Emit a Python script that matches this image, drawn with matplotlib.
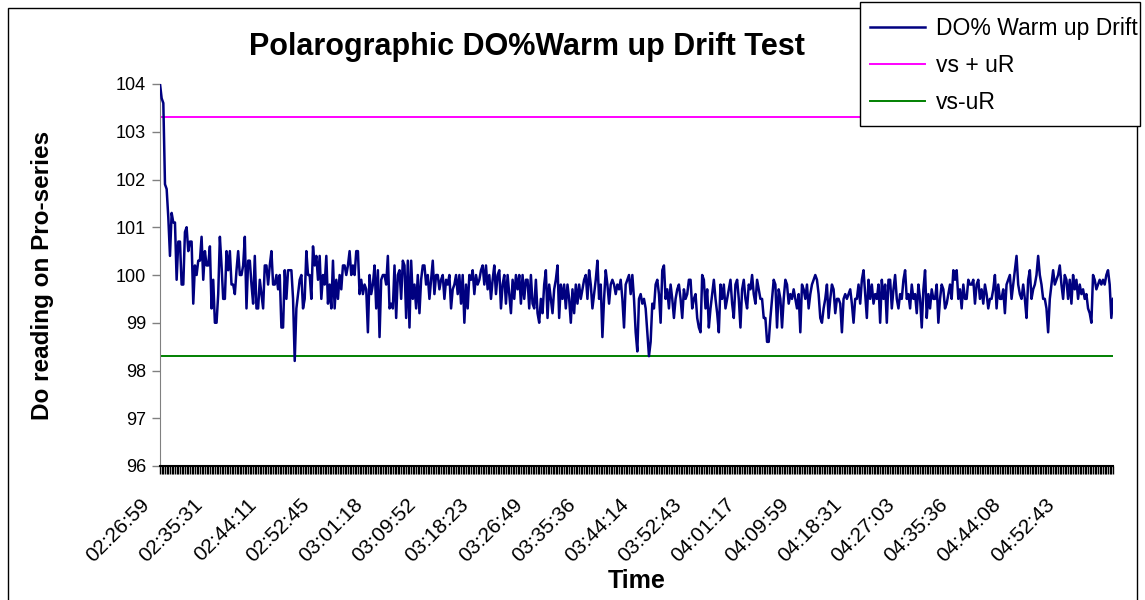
import numpy as np
import matplotlib.pyplot as plt
from matplotlib.patches import Rectangle
from matplotlib.transforms import ScaledTranslation

plt.rcParams['font.family'] = ['Liberation Sans', 'DejaVu Sans']

# DO% readings, in time order
do_start = [104.0, 103.7, 103.6, 101.9, 101.8]
do_part1 = [101.2, 100.4, 101.3, 101.1, 101.1, 99.9, 100.7, 100.7, 99.8, 99.8,
            100.9, 101.0, 100.5, 100.7, 100.7, 99.4, 100.2, 100.0, 100.3, 100.3,
            100.8, 99.9, 100.5, 100.2, 100.2, 100.6, 99.3, 99.9, 99.0, 99.0,
            99.6, 100.8, 100.2, 99.5, 99.5, 100.5, 100.1, 100.5, 99.8, 99.8,
            99.6, 100.1, 100.5, 100.0, 100.0, 100.2, 100.8, 99.3, 100.3, 100.3,
            99.8, 99.4, 100.4, 99.3, 99.3, 99.9, 99.6, 99.3, 100.2, 100.2,
            99.8, 100.2, 100.5, 99.8, 99.8, 100.0, 99.7, 100.0, 98.9, 98.9,
            100.1, 99.5, 100.1, 100.1, 100.1, 99.5, 98.2, 99.3, 99.6, 99.9,
            100.0, 99.3, 99.5, 100.5, 100.0, 100.0, 99.5, 100.6, 100.2, 100.4,
            99.9, 100.4, 99.5, 100.0, 99.8, 100.4, 99.4, 99.8, 99.3, 100.3,
            99.3, 99.9, 99.5, 100.0, 99.7, 100.2, 100.2, 100.0, 100.2, 100.5,
            100.0, 100.2, 100.0, 100.5, 100.5, 99.6, 99.9, 99.6, 99.8, 99.7,
            98.8, 100.0, 99.6, 99.8, 100.2, 99.3, 100.1, 98.7, 99.9, 100.0,
            100.0, 99.8, 100.4, 99.3, 99.4]
do_part2 = [99.3, 100.2, 99.1, 100.0, 100.1, 99.5, 100.3, 100.2, 99.1, 100.3,
            98.9, 100.3, 99.5, 99.8, 99.3, 100.0, 99.2, 99.9, 100.2, 100.2,
            99.8, 100.0, 99.5, 99.9, 100.3, 99.6, 100.0, 100.0, 99.7, 99.9,
            100.0, 99.5, 99.9, 99.8, 100.0, 99.3, 99.7, 99.8, 100.0, 99.6,
            100.0, 99.4, 100.0, 99.0, 99.8, 99.3, 100.0, 99.9, 100.1, 99.6,
            100.0, 99.8, 99.9, 100.1, 100.2, 99.8, 100.2, 99.7, 100.0, 99.5,
            99.9, 100.2, 99.6, 100.0, 100.1, 99.3, 99.8, 100.0, 99.4, 100.0,
            99.6, 99.2, 99.9, 99.5, 100.0, 99.7, 100.0, 99.4, 100.0, 99.5,
            99.9, 99.9, 99.3, 100.0, 99.4, 99.3, 99.9, 99.2, 99.0, 99.5,
            99.2, 99.8, 100.1, 99.1, 99.8, 99.5, 99.2, 99.7, 99.9, 100.2,
            99.1, 99.8, 99.5, 99.8, 99.3, 99.8, 99.5, 99.0, 99.7, 99.2,
            99.8, 99.4, 99.8, 99.5, 99.7, 99.9, 100.0, 99.5, 100.1, 99.8,
            99.3, 99.6, 99.9, 100.3, 99.5, 99.8, 98.7, 99.5, 100.1, 99.8,
            99.4, 99.8, 99.9, 99.8, 99.6, 99.8, 99.7, 99.9, 99.5, 98.9,
            99.8, 99.9, 100.0, 99.6]
do_part3 = [100.0, 99.5, 98.8, 98.4, 99.5, 99.6, 99.4, 99.5, 99.3, 98.8,
            98.3, 98.6, 99.4, 99.3, 99.8, 99.9, 99.6, 99.0, 100.1, 100.2,
            99.5, 99.7, 99.3, 99.8, 99.5, 99.1, 99.5, 99.7, 99.8, 99.5,
            99.1, 99.7, 99.5, 99.6, 99.9, 99.9, 99.3, 99.5, 99.6, 99.1,
            98.9, 98.8, 100.0, 99.9, 99.3, 99.7, 98.9, 99.3, 99.6, 99.9,
            99.5, 99.2, 98.8, 99.8, 99.5, 99.8, 99.3, 99.5, 99.7, 99.9,
            99.4, 99.1, 99.8, 99.9, 99.5, 98.9, 99.7, 99.9, 99.5, 99.3,
            99.8, 99.7, 100.0, 99.6, 99.4, 99.9, 99.7, 99.5, 99.5, 99.1,
            99.1, 98.6, 98.6, 99.1, 99.5, 99.9, 99.8, 98.9, 99.7, 99.5,
            98.9, 99.5, 99.9, 99.8, 99.4, 99.6, 99.5, 99.7, 99.5, 99.3,
            99.6, 98.8, 99.8, 99.7, 99.5, 99.8, 99.3, 99.6, 99.8, 99.9,
            100.0, 99.9, 99.6, 99.1, 99.0, 99.3, 99.5, 99.8, 99.1, 99.5,
            99.8, 99.7, 99.2, 99.5, 99.5, 99.4, 98.8, 99.5, 99.6, 99.5,
            99.6, 99.7, 99.4, 99.0, 99.5, 99.5, 99.8, 99.4, 99.9, 100.1,
            99.6, 99.1, 99.9, 99.5, 99.8, 99.4, 99.6, 99.5]
do_part4 = [99.8, 99.0, 99.9, 99.5, 99.8, 99.0, 99.9, 99.9, 99.3, 99.7,
            100.0, 99.5, 99.3, 99.6, 99.5, 99.9, 100.1, 99.5, 99.6, 99.3,
            99.8, 99.5, 99.6, 99.2, 99.8, 99.5, 98.9, 99.7, 100.1, 99.1,
            99.6, 99.3, 99.7, 99.5, 99.5, 99.8, 99.0, 99.5, 99.8, 99.7,
            99.3, 99.4, 99.6, 99.8, 99.5, 100.1, 99.9, 100.1, 99.5, 99.7,
            99.3, 99.8, 99.5, 99.5, 99.9, 99.8, 99.8, 99.9, 99.4, 99.8,
            99.9, 99.5, 99.7, 99.4, 99.8, 99.6, 99.3, 99.5, 99.5, 99.7,
            100.0, 99.3, 99.8, 99.5, 99.5, 99.7, 99.2, 99.8, 99.9, 100.0,
            99.5, 99.8, 100.1, 100.4, 99.8, 99.6, 99.5, 99.8, 99.5, 99.1,
            99.9, 100.1, 99.5, 99.7, 99.8, 100.0, 100.4, 100.0, 99.8, 99.5,
            99.5, 99.3, 98.8, 99.5, 99.8, 100.1, 99.8, 99.9, 100.0, 100.2,
            99.8, 99.5, 100.0, 99.9, 99.5, 99.9, 99.4, 100.0, 99.7, 99.9,
            99.5, 99.8, 99.6, 99.7, 99.5, 99.6, 99.3, 99.2, 99.0, 100.0,
            99.9, 99.7, 99.8, 99.9, 99.8, 99.9, 99.8, 100.0, 100.1, 99.8,
            99.1, 99.5]

vs_plus_ur = 103.3
vs_minus_ur = 98.3

time_labels = ['02:26:59', '02:35:31', '02:44:11', '02:52:45', '03:01:18',
               '03:09:52', '03:18:23', '03:26:49', '03:35:36', '03:44:14',
               '03:52:43', '04:01:17', '04:09:59', '04:18:31', '04:27:03',
               '04:35:36', '04:44:08', '04:52:43']
label_every = 32  # readings between time labels

do_reading = np.array(do_start + do_part1 + do_part2 + do_part3 + do_part4)
n = len(do_reading)
x = np.arange(n)

fig = plt.figure(figsize=(11.45, 6.0), dpi=100)
ax = fig.add_axes([160 / 1145, 1 - 466 / 600, (1113 - 160) / 1145, (466 - 84) / 600])

ax.plot(x, do_reading, color='#000080', lw=1.8, label='DO% Warm up Drift', zorder=3)
ax.plot(x, np.full(n, vs_plus_ur), color='#FF00FF', lw=1.4, label='vs + uR', zorder=2)
ax.plot(x, np.full(n, vs_minus_ur), color='#008000', lw=1.4, label='vs-uR', zorder=2)

ax.set_xlim(0, n - 1)
ax.set_ylim(96, 104)
ax.set_yticks(range(96, 105))

pos = np.arange(0, n, label_every)
labels = time_labels[:len(pos)]
ax.set_xticks(pos[:len(labels)])
ax.set_xticklabels(labels, rotation=45, ha='right', va='top', rotation_mode='anchor')
ax.set_xticks(x, minor=True)
ax.tick_params(axis='x', which='both', length=6, width=1, color='black',
               labelsize=15, pad=15)
ax.tick_params(axis='y', length=6, width=1, color='#808080', labelsize=13, pad=4)
shift = ScaledTranslation(-0.2, 0, fig.dpi_scale_trans)
for lab in ax.get_xticklabels():
    lab.set_transform(lab.get_transform() + shift)

for s in ['top', 'right']:
    ax.spines[s].set_visible(False)
ax.spines['left'].set_color('#808080')
ax.spines['bottom'].set_color('black')
ax.spines['bottom'].set_linewidth(1.5)

ax.set_ylabel('Do reading on Pro-series', fontsize=17.5, fontweight='bold')
ax.yaxis.set_label_coords((54 - 160) / 953, 0.5)
ax.set_xlabel('Time', fontsize=18, fontweight='bold')
ax.xaxis.set_label_coords(0.5, (466 - 569) / 382)
fig.text(527 / 1145, 1 - 47 / 600, 'Polarographic DO%Warm up Drift Test',
         fontsize=22, fontweight='bold', ha='center', va='center')

# outer chart border
fig.patches.append(Rectangle((8 / 1145, -0.02), (1137 - 8) / 1145, (600 - 8) / 600 + 0.02,
                             transform=fig.transFigure, fill=False, ec='black', lw=1))

# legend box drawn separately so it keeps the reference size
fig.patches.append(Rectangle((860 / 1145, 1 - 126 / 600), (1140 - 860) / 1145, 124 / 600,
                             transform=fig.transFigure, fc='white', ec='black', lw=1,
                             zorder=4))
leg = fig.legend(loc='upper left', bbox_to_anchor=(860 / 1145, 1 - 7 / 600),
                 fontsize=16.5, frameon=False,
                 handlelength=2.4, handletextpad=0.45, labelspacing=0.6,
                 borderpad=0.45, borderaxespad=0)
leg.set_zorder(5)

fig.savefig('out.png', dpi=100)
